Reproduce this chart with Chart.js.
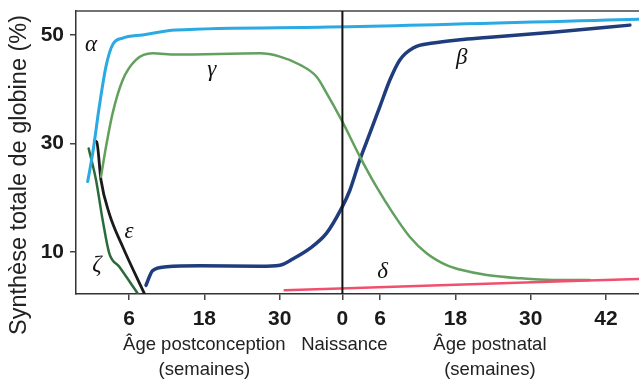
<!DOCTYPE html>
<html>
<head>
<meta charset="utf-8">
<script src="https://cdn.jsdelivr.net/npm/chart.js@4.4.1/dist/chart.umd.min.js"></script>
<style>
html, body { margin: 0; padding: 0; background: #fff; }
</style>
</head>
<body>
<canvas id="globine" width="639" height="382"></canvas>
<script>
// one timeline in weeks: postconception weeks, birth at week 40, postnatal = 40 + weeks
var birthWeek = 40;
var xTickPos = [6, 18, 30, 40, 46, 58, 70, 82];
var xTickLabels = ['6', '18', '30', '0', '6', '18', '30', '42'];
var yTickPos = [10, 30, 50];

var alphaWeeks = [-0.58, 0.22, 1.27, 2.34, 3.4, 5.0, 8.18, 13.48, 36.4, 87.2];
var alphaVals  = [23.0, 28.2, 36.8, 44.2, 48.2, 49.4, 50.0, 50.9, 51.4, 52.9];

var gammaWeeks = [1.54, 2.34, 3.4, 5.0, 7.11, 9.77, 13.48, 26.86, 30.04, 33.23, 35.89, 37.48, 39.87, 42.78, 45.44, 48.09, 50.75, 53.41, 56.59, 58.7, 63.0, 68.3, 73.5, 79.4];
var gammaVals  = [23.9, 29.4, 35.6, 41.7, 45.4, 46.6, 46.4, 46.6, 46.0, 44.5, 42.3, 39.3, 34.3, 27.6, 22.0, 17.1, 12.8, 9.8, 7.6, 6.8, 5.8, 5.2, 4.9, 4.9];

var betaWeeks = [8.71, 9.77, 12.0, 17.3, 26.86, 30.04, 32.16, 34.82, 37.48, 39.87, 41.19, 42.78, 44.38, 45.97, 47.56, 49.15, 51.27, 54.45, 58.7, 63.0, 73.5, 85.8];
var betaVals  = [3.9, 6.6, 7.3, 7.5, 7.4, 7.6, 8.8, 10.7, 13.5, 18.1, 21.4, 27.0, 31.9, 36.8, 41.7, 45.4, 47.6, 48.5, 49.1, 49.5, 50.5, 51.8];

var epsilonWeeks = [0.47, 0.86, 1.54, 2.86, 5.0, 8.44];
var epsilonVals  = [30.5, 30.3, 23.3, 17.1, 11.0, 2.4];

var zetaWeeks = [-0.42, 0.75, 1.81, 2.86, 4.46, 7.39];
var zetaVals  = [29.1, 23.3, 15.9, 9.8, 7.3, 2.4];

var deltaWeeks = [30.8, 58, 87.2];
var deltaVals  = [3.0, 4.0, 5.06];

// greek labels: [text, week, value]
var curveLabels = [
    ['α', -0.05, 48.2],
    ['γ', 19.2, 43.6],
    ['β', 59.0, 45.8],
    ['ε', 6.0, 13.7],
    ['ζ', 0.9, 7.6],
    ['δ', 46.4, 6.35]
];

function pts(xs, ys) {
    return xs.map(function (x, i) { return { x: x, y: ys[i] }; });
}

function line(data, color, width) {
    return {
        data: data,
        borderColor: color,
        backgroundColor: color,
        borderWidth: width,
        pointRadius: 0,
        cubicInterpolationMode: 'monotone',
        borderCapStyle: 'round',
        borderJoinStyle: 'round',
        fill: false
    };
}

var extras = {
    id: 'extras',
    afterDraw: function (chart) {
        var ctx = chart.ctx;
        var a = chart.chartArea;
        var xs = chart.scales.x, ys = chart.scales.y;
        ctx.save();
        // top border
        ctx.strokeStyle = '#444';
        ctx.lineWidth = 1.5;
        ctx.beginPath();
        ctx.moveTo(a.left, a.top);
        ctx.lineTo(a.right, a.top);
        ctx.stroke();
        // birth line
        var bx = xs.getPixelForValue(birthWeek);
        ctx.strokeStyle = '#111';
        ctx.lineWidth = 2;
        ctx.beginPath();
        ctx.moveTo(bx, a.top);
        ctx.lineTo(bx, a.bottom);
        ctx.stroke();
        // curve names
        ctx.fillStyle = '#111';
        ctx.font = 'italic 23px "Liberation Serif"';
        ctx.textAlign = 'center';
        ctx.textBaseline = 'middle';
        curveLabels.forEach(function (l) {
            ctx.fillText(l[0], xs.getPixelForValue(l[1]), ys.getPixelForValue(l[2]));
        });
        // axis captions
        ctx.font = '18.5px "Liberation Sans"';
        ctx.fillStyle = '#222';
        ctx.fillText('Âge postconception', xs.getPixelForValue(18), 345);
        ctx.fillText('(semaines)', xs.getPixelForValue(18), 370);
        ctx.fillText('Naissance', bx + 2, 345);
        ctx.fillText('Âge postnatal', xs.getPixelForValue(63.5), 345);
        ctx.fillText('(semaines)', xs.getPixelForValue(63.5), 370);
        // y title
        ctx.translate(20, 175);
        ctx.rotate(-Math.PI / 2);
        ctx.font = '23.5px "Liberation Sans"';
        ctx.fillText('Synthèse totale de globine (%)', 0, 0);
        ctx.restore();
    }
};

new Chart(document.getElementById('globine').getContext('2d'), {
    type: 'line',
    data: {
        datasets: [
            line(pts(deltaWeeks, deltaVals), '#f0506e', 2.5),
            line(pts(gammaWeeks, gammaVals), '#62a05e', 2.5),
            line(pts(alphaWeeks, alphaVals), '#2aa9e2', 3),
            line(pts(betaWeeks, betaVals), '#1f3d7c', 3.5),
            line(pts(zetaWeeks, zetaVals), '#2b6b3b', 2.5),
            line(pts(epsilonWeeks, epsilonVals), '#1a1a1a', 2.8)
        ]
    },
    options: {
        responsive: false,
        animation: false,
        layout: { padding: { top: 11, left: 0, right: 0, bottom: 0 } },
        plugins: { legend: { display: false }, tooltip: { enabled: false } },
        scales: {
            x: {
                type: 'linear',
                min: -2.44,
                max: 87.25,
                afterBuildTicks: function (s) {
                    s.ticks = xTickPos.map(function (v) { return { value: v }; });
                },
                afterFit: function (s) {
                    s.height = 88;
                    s.paddingLeft = 0;
                    s.paddingRight = 0;
                },
                ticks: {
                    autoSkip: false,
                    maxRotation: 0,
                    padding: 7,
                    color: '#1a1a1a',
                    font: { family: 'Liberation Sans', size: 21, weight: 'bold' },
                    callback: function (v, i) { return xTickLabels[i]; }
                },
                grid: { drawOnChartArea: false, tickLength: 6, color: '#444', lineWidth: 1.5 },
                border: { color: '#333', width: 1.5 }
            },
            y: {
                type: 'linear',
                min: 2.3,
                max: 54.4,
                afterBuildTicks: function (s) {
                    s.ticks = yTickPos.map(function (v) { return { value: v }; });
                },
                afterFit: function (s) {
                    s.width = 76;
                    s.paddingTop = 0;
                    s.paddingBottom = 0;
                },
                ticks: {
                    padding: 6,
                    color: '#1a1a1a',
                    font: { family: 'Liberation Sans', size: 21, weight: 'bold' }
                },
                grid: { drawOnChartArea: false, tickLength: 6, color: '#444', lineWidth: 1.5 },
                border: { color: '#333', width: 1.5 }
            }
        }
    },
    plugins: [extras]
});
</script>
</body>
</html>
